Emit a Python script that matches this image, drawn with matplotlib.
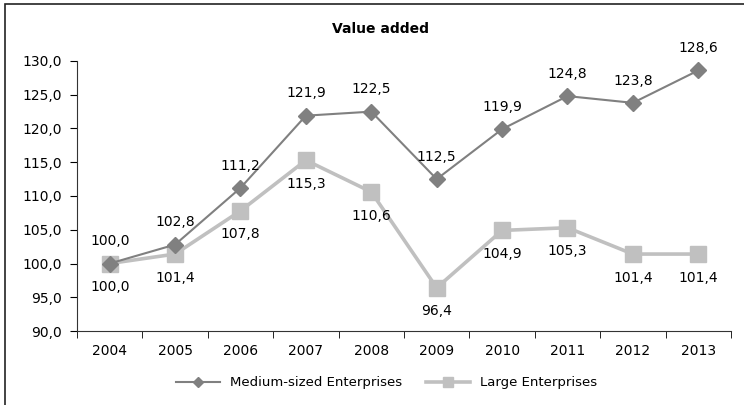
import matplotlib.pyplot as plt
from matplotlib.patches import Rectangle

# Datos
years = ["2004", "2005", "2006", "2007", "2008", "2009", "2010", "2011", "2012", "2013"]
medium = [100.0, 102.8, 111.2, 121.9, 122.5, 112.5, 119.9, 124.8, 123.8, 128.6]
large = [100.0, 101.4, 107.8, 115.3, 110.6, 96.4, 104.9, 105.3, 101.4, 101.4]
yticks = [90, 95, 100, 105, 110, 115, 120, 125, 130]

plt.rcParams['font.family'] = ['DejaVu Sans']

fig = plt.figure(figsize=(7.44, 4.05), dpi=100)
ax = fig.add_axes([0.1035, 0.1827, 0.879, 0.6667])

x = list(range(len(years)))
ax.plot(x, medium, color="#808080", lw=1.5, marker="D", ms=8.5,
        label="Medium-sized Enterprises", zorder=3)
ax.plot(x, large, color="#C0C0C0", lw=2.6, marker="s", ms=11,
        label="Large Enterprises", zorder=2)

# Etiquetas de datos
for i in x:
    ax.annotate(f"{medium[i]:.1f}".replace(".", ","), (i, medium[i]),
                xytext=(0, 16), textcoords="offset points",
                ha="center", va="center", fontsize=10)
    ax.annotate(f"{large[i]:.1f}".replace(".", ","), (i, large[i]),
                xytext=(0, -17), textcoords="offset points",
                ha="center", va="center", fontsize=10)

ax.set_xlim(-0.5, 9.5)
ax.set_ylim(90, 130)
ax.set_yticks(yticks)
ax.set_yticklabels([f"{v:.1f}".replace(".", ",") for v in yticks], fontsize=10)
ax.set_xticks(x)
ax.set_xticklabels(years, fontsize=10)
ax.tick_params(axis="x", length=0, pad=9)
ax.set_xticks([k - 0.5 for k in range(len(years) + 1)], minor=True)
ax.tick_params(axis="x", which="minor", length=5, direction="out")
ax.tick_params(axis="y", length=5, direction="out", pad=6)

for s in ["top", "right"]:
    ax.spines[s].set_visible(False)
for s in ["left", "bottom"]:
    ax.spines[s].set_color("#333333")

fig.text(0.511, 0.928, "Value added", ha="center", va="center",
         fontsize=10, fontweight="bold")

fig.legend(loc="center", bbox_to_anchor=(0.52, 0.055), ncol=2, frameon=False,
           fontsize=9.5, handlelength=3.3, markerscale=0.6, columnspacing=1.8)

# Marco del grafico
fig.patches.append(Rectangle((5 / 744, -0.1), 1.1, 1.09, transform=fig.transFigure,
                             fill=False, edgecolor="#222222", lw=1.2))

fig.savefig("out.png", dpi=100)
